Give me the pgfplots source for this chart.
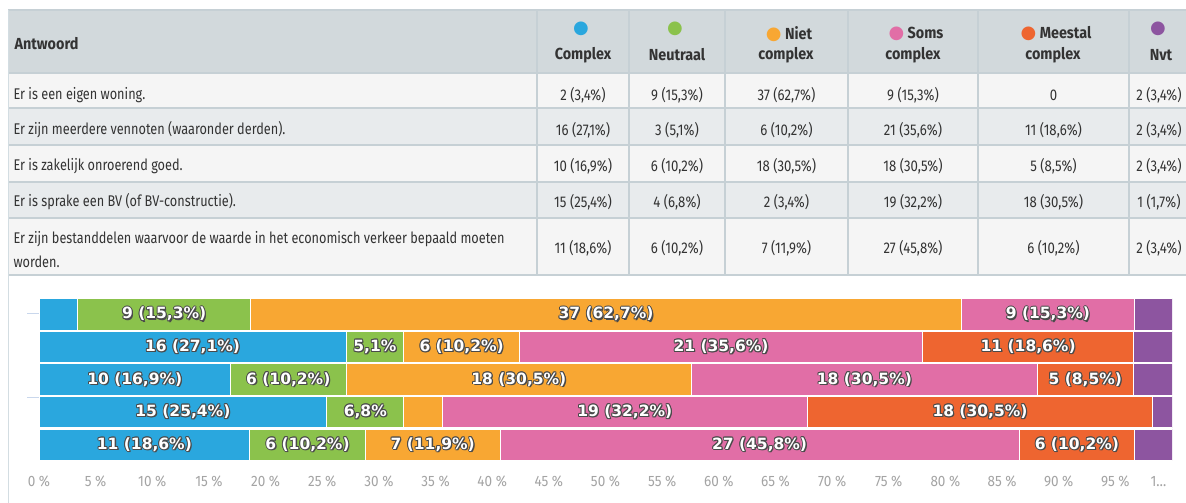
\documentclass[border=0pt]{standalone}
\usepackage{pgfplots}
\pgfplotsset{compat=1.18}
\usepackage{fontspec}
\setmainfont{Fira Sans}
\newfontfamily\tabfont[FakeStretch=0.82]{Fira Sans}
\newfontfamily\celfont[FakeStretch=0.85]{Fira Sans}
\newfontfamily\hdfont[FakeStretch=0.9]{Fira Sans}
\newfontfamily\tkfont[FakeStretch=0.9]{Fira Sans}
\newfontfamily\labfont{DejaVu Sans}
\newfontfamily\symfont{DejaVu Sans}
\definecolor{cA}{HTML}{2AA7DE}
\definecolor{cB}{HTML}{8BC24C}
\definecolor{cC}{HTML}{F8A733}
\definecolor{cD}{HTML}{E16EA6}
\definecolor{cE}{HTML}{EE6530}
\definecolor{cF}{HTML}{8D55A0}
\definecolor{hdr}{HTML}{D2D9DC}
\definecolor{rowa}{HTML}{F5F5F5}
\definecolor{rowb}{HTML}{E8EBED}
\definecolor{grid}{HTML}{C6D0D5}
\definecolor{txt}{HTML}{333333}
\definecolor{tickc}{HTML}{A4A4A4}
\definecolor{ol}{HTML}{4A4A4A}
\definecolor{decl}{HTML}{D3DDE2}
\definecolor{tickl}{HTML}{C9D7EC}
\newcommand\cpy[3]{\rlap{\hspace*{#1}\raisebox{#2}{\textcolor{ol}{#3}}}}
\newcommand\outl[1]{\cpy{0.9pt}{0pt}{#1}\cpy{-0.9pt}{0pt}{#1}\cpy{0pt}{0.9pt}{#1}\cpy{0pt}{-0.9pt}{#1}\cpy{0.7pt}{0.7pt}{#1}\cpy{-0.7pt}{0.7pt}{#1}\cpy{0.7pt}{-0.7pt}{#1}\cpy{-0.7pt}{-0.7pt}{#1}\cpy{1.3pt}{-1.3pt}{#1}\textcolor{white}{#1}}
\newcommand\tf{\tabfont\fontsize{15.5}{21}\selectfont}
\newcommand\cf{\celfont\fontsize{15.5}{21}\selectfont}
\newcommand\hf{\hdfont\bfseries\fontsize{16}{21}\selectfont}
\newcommand\dotc[1]{{\symfont\fontsize{18}{21}\selectfont\textcolor{#1}{●}}}
\newcommand\rowc[7]{%
 \node at (583,-#1) {#2};
 \node at (677,-#1) {#3};
 \node at (786.5,-#1) {#4};
 \node at (913,-#1) {#5};
 \node at (1053.5,-#1) {#6};
 \node at (1159,-#1) {#7};}
\begin{document}
\begin{tikzpicture}[x=1pt,y=1pt]
\useasboundingbox (0,0) rectangle (1186,-503);
\fill[white] (0,0) rectangle (1186,-503);
% table backgrounds
\fill[hdr] (8,-10) rectangle (1186,-73);
\fill[rowa] (8,-73) rectangle (1186,-108);
\fill[rowb] (8,-108) rectangle (1186,-145);
\fill[rowa] (8,-145) rectangle (1186,-182);
\fill[rowb] (8,-182) rectangle (1186,-218);
\fill[rowa] (8,-218) rectangle (1186,-275);
\begin{scope}[draw=grid, line width=1.2pt]
\foreach \yy in {10,73,108,145,182,218,275} {\draw (8,-\yy) -- (1186,-\yy);}
\foreach \xx in {537,629,725,848,978,1129} {\draw (\xx,-10) -- (\xx,-275);}
\end{scope}
\draw[decl, line width=1.2pt] (8.6,-10) -- (8.6,-503);
\draw[tickl, line width=1pt] (27,-313) -- (39,-313);
\draw[tickl, line width=1pt] (27,-397) -- (39,-397);
% header
\begin{scope}[every node/.style={text=txt, font=\hf}]
\node[anchor=west] at (11,-44) {Antwoord};
\node at (581,-29) {\dotc{cA}};
\node at (583,-55) {Complex};
\node at (675,-29) {\dotc{cB}};
\node at (677,-55) {Neutraal};
\node at (789,-34) {\dotc{cC}\ Niet};
\node at (786,-55) {complex};
\node at (916,-34) {\dotc{cD}\ Soms};
\node at (913,-55) {complex};
\node at (1056,-34) {\dotc{cE}\ Meestal};
\node at (1053,-55) {complex};
\node at (1158,-29) {\dotc{cF}};
\node at (1161,-55) {Nvt};
\end{scope}
% rows
\begin{scope}[every node/.style={text=txt, font=\tf}]
\node[anchor=west] at (10,-95) {Er is een eigen woning.};
\node[anchor=west] at (10,-130) {Er zijn meerdere vennoten (waaronder derden).};
\node[anchor=west] at (10,-166) {Er is zakelijk onroerend goed.};
\node[anchor=west] at (10,-202) {Er is sprake een BV (of BV-constructie).};
\node[anchor=west] at (10,-239.5) {Er zijn bestanddelen waarvoor de waarde in het economisch verkeer bepaald moeten};
\node[anchor=west] at (10,-261.5) {worden.};
\end{scope}
\begin{scope}[every node/.style={text=txt, font=\cf}]
\rowc{95}{2 (3,4\%)}{9 (15,3\%)}{37 (62,7\%)}{9 (15,3\%)}{0}{2 (3,4\%)}
\rowc{130}{16 (27,1\%)}{3 (5,1\%)}{6 (10,2\%)}{21 (35,6\%)}{11 (18,6\%)}{2 (3,4\%)}
\rowc{166}{10 (16,9\%)}{6 (10,2\%)}{18 (30,5\%)}{18 (30,5\%)}{5 (8,5\%)}{2 (3,4\%)}
\rowc{202}{15 (25,4\%)}{4 (6,8\%)}{2 (3,4\%)}{19 (32,2\%)}{18 (30,5\%)}{1 (1,7\%)}
\rowc{248}{11 (18,6\%)}{6 (10,2\%)}{7 (11,9\%)}{27 (45,8\%)}{6 (10,2\%)}{2 (3,4\%)}
\end{scope}
% bars
\begin{axis}[at={(39pt,-461pt)}, anchor=south west, scale only axis,
  width=1133pt, height=163pt, xmin=0, xmax=100, ymin=0.5, ymax=5.5,
  y dir=reverse, xbar stacked, bar width=31.4pt, ytick=\empty,
  axis line style={draw=none}, major tick length=0pt,
  xtick={0,5,10,15,20,25,30,35,40,45,50,55,60,65,70,75,80,85,90,95,98.8},
  xticklabels={0 \%,5 \%,10 \%,15 \%,20 \%,25 \%,30 \%,35 \%,40 \%,45 \%,50 \%,55 \%,60 \%,65 \%,70 \%,75 \%,80 \%,85 \%,90 \%,95 \%,1…},
  xticklabel style={font=\tkfont\fontsize{15}{17}\selectfont, text=tickc, yshift=-11.5pt},
  every axis plot/.append style={draw=white, line width=0.8pt}]
\addplot[fill=cA] coordinates {(3.4,1) (27.1,2) (16.9,3) (25.4,4) (18.6,5)};
\addplot[fill=cB] coordinates {(15.3,1) (5.1,2) (10.2,3) (6.8,4) (10.2,5)};
\addplot[fill=cC] coordinates {(62.7,1) (10.2,2) (30.5,3) (3.4,4) (11.9,5)};
\addplot[fill=cD] coordinates {(15.3,1) (35.6,2) (30.5,3) (32.2,4) (45.8,5)};
\addplot[fill=cE] coordinates {(0,1) (18.6,2) (8.5,3) (30.5,4) (10.2,5)};
\addplot[fill=cF] coordinates {(3.4,1) (3.4,2) (3.4,3) (1.7,4) (3.4,5)};
\end{axis}
\begin{axis}[at={(39pt,-461pt)}, anchor=south west, scale only axis,
  width=1133pt, height=163pt, xmin=0, xmax=100, ymin=0.5, ymax=5.5,
  y dir=reverse, hide axis, clip=false]
\addplot[only marks, mark=*, mark size=0pt, mark options={draw=none, fill=none},
  point meta=explicit symbolic, nodes near coords={\outl{\pgfplotspointmeta}},
  every node near coord/.style={anchor=center, inner sep=0pt, font=\labfont\bfseries\fontsize{15.5}{17}\selectfont}]
 table[meta=lab] {
x y lab
11.05 1 {9 (15,3\%)}
50.05 1 {37 (62,7\%)}
89.05 1 {9 (15,3\%)}
13.55 2 {16 (27,1\%)}
29.65 2 {5,1\%}
37.3 2 {6 (10,2\%)}
60.2 2 {21 (35,6\%)}
87.3 2 {11 (18,6\%)}
8.45 3 {10 (16,9\%)}
22.0 3 {6 (10,2\%)}
42.35 3 {18 (30,5\%)}
72.85 3 {18 (30,5\%)}
92.35 3 {5 (8,5\%)}
12.7 4 {15 (25,4\%)}
28.8 4 {6,8\%}
51.7 4 {19 (32,2\%)}
83.05 4 {18 (30,5\%)}
9.3 5 {11 (18,6\%)}
23.7 5 {6 (10,2\%)}
34.75 5 {7 (11,9\%)}
63.6 5 {27 (45,8\%)}
91.6 5 {6 (10,2\%)}
};
\end{axis}
\end{tikzpicture}
\end{document}
